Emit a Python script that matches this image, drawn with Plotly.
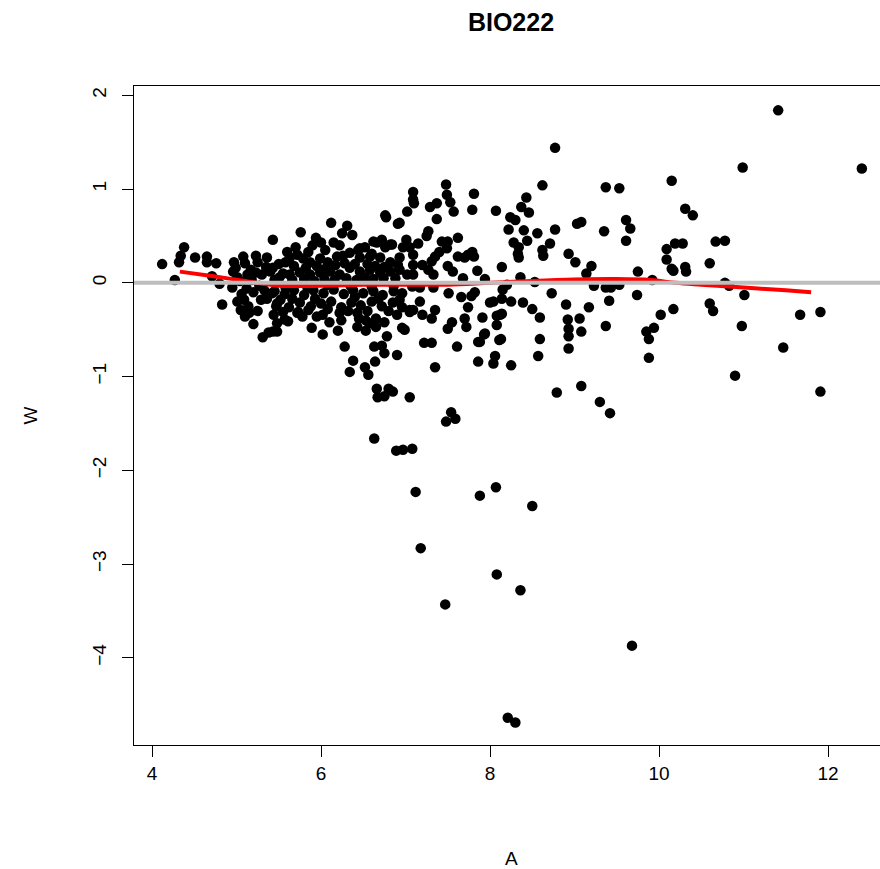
import plotly.graph_objects as go

# ---- data (A = average log intensity, W = log ratio) ----
A = [
    4.12,4.38,4.34,4.32,4.51,4.65,4.65,4.76,
    4.27,4.71,4.80,4.83,4.97,4.99,5.08,5.10,
    4.96,5.01,4.95,5.01,5.05,5.10,5.09,5.14,
    5.20,5.23,5.25,5.17,5.23,5.30,5.36,5.29,
    5.36,5.35,5.31,5.38,5.43,5.42,5.04,5.12,
    5.18,5.27,5.33,5.45,5.47,5.40,5.13,5.06,
    5.20,5.25,5.15,5.44,5.48,5.43,5.48,5.55,
    5.52,5.50,5.51,5.43,5.55,5.58,5.58,
    5.76,5.94,6.00,6.12,6.31,6.25,6.37,6.15,
    5.63,5.72,5.79,5.87,5.99,6.08,6.19,6.26,
    6.34,6.44,6.52,6.66,6.76,6.84,6.97,6.46,
    6.58,6.70,6.82,6.91,6.62,6.72,6.82,6.46,
    6.76,6.91,7.02,6.77,5.63,5.75,5.87,5.99,
    6.11,6.22,6.34,6.46,6.58,6.70,6.82,6.93,
    7.02,5.68,5.82,5.95,6.05,6.17,6.28,6.40,
    6.55,6.64,6.75,6.88,5.66,5.80,5.92,6.04,
    6.16,6.30,6.42,6.52,6.62,6.74,5.70,5.60,
    5.85,6.05,6.22,6.60,5.90,
    5.45,5.57,5.68,5.80,5.91,6.03,6.15,6.27,
    6.38,6.50,6.62,6.73,6.86,6.96,
    5.48,5.62,5.75,5.88,6.00,6.12,6.24,6.36,
    6.47,6.60,6.72,6.85,
    5.57,5.72,5.89,6.02,6.22,6.24,6.20,6.43,
    6.53,6.65,6.78,6.90,6.28,6.63,6.72,5.61,
    5.73,5.85,5.95,6.02,6.43,6.53,6.65,6.45,
    6.57,6.75,6.96,6.99,7.05,6.75,6.90,6.38,
    6.64,6.52,6.56,6.34,6.66,6.80,6.85,6.67,
    6.75,7.05,6.63,6.89,6.97,7.08,7.12,7.18,
    5.66,5.78,5.93,6.08,6.10,6.32,6.40,6.55,
    6.68,6.80,6.92,5.84,6.08,6.35,6.60,6.86,
    7.48,7.09,7.09,7.10,7.49,7.53,7.81,7.29,
    7.37,7.57,7.79,8.07,7.37,6.93,7.62,7.43,
    7.50,7.01,7.05,7.09,7.40,7.49,7.62,7.70,
    7.79,7.81,7.31,7.85,7.09,7.20,7.27,7.50,
    7.56,7.33,7.09,7.94,7.68,6.93,7.74,7.15,
    7.25,7.35,7.27,
    7.08,7.17,7.33,7.51,7.66,7.78,7.82,8.00,
    8.04,7.74,7.35,7.17,7.09,7.05,6.93,6.96,
    7.20,7.31,7.55,7.70,7.72,7.91,8.08,8.12,
    8.08,7.50,7.94,7.86,7.22,7.31,7.61,7.35,
    7.86,7.93,8.11,8.06,8.04,7.54,7.59,7.48,
    7.88,8.07,8.50,8.08,8.36,7.47,8.21,8.30,
    9.68,7.88,
    8.37,8.46,8.24,8.30,8.22,8.40,8.56,8.77,
    8.43,8.28,8.34,8.33,8.34,8.44,8.71,8.62,
    8.63,8.93,9.01,8.14,8.36,8.53,8.73,8.15,
    8.20,8.14,8.25,8.39,8.50,8.59,8.90,8.92,
    8.93,8.93,8.59,8.14,8.13,8.93,8.57,8.25,
    8.77,8.62,8.79,
    9.03,9.08,9.35,9.61,9.66,9.61,9.37,9.53,
    10.15,10.31,10.40,10.09,10.09,10.15,10.17,10.19,
    10.28,10.31,10.32,9.20,9.14,9.75,9.23,9.37,
    9.43,9.53,9.92,9.17,9.41,9.74,10.02,10.17,
    9.06,9.08,9.37,9.85,9.88,9.94,9.88,9.08,
    9.30,9.42,10.99,11.41,12.40,10.67,10.78,10.60,
    10.78,10.83,11.01,10.60,10.64,11.67,11.91,10.98,
    11.47,10.90,11.91,
]
W = [
    0.20,0.38,0.29,0.22,0.27,0.28,0.22,0.21,
    0.03,0.07,-0.01,-0.23,0.22,0.16,0.28,0.21,
    0.12,0.06,-0.05,-0.20,-0.29,-0.36,-0.18,-0.25,
    -0.44,0.29,0.22,0.14,0.11,0.09,-0.17,-0.18,
    0.27,0.17,-0.58,-0.53,0.46,-0.11,0.02,-0.06,
    0.03,-0.03,-0.08,0.03,-0.25,0.12,0.09,-0.12,
    -0.10,-0.30,-0.32,-0.34,-0.43,-0.52,-0.52,-0.31,
    -0.18,0.20,0.06,0.16,0.10,-0.05,0.22,
    0.54,0.48,0.43,0.64,0.61,0.53,0.51,0.43,
    0.27,0.30,0.26,0.22,0.26,0.22,0.28,0.29,
    0.32,0.35,0.38,0.43,0.38,0.41,0.38,0.27,
    0.28,0.27,0.22,0.19,0.44,0.46,0.41,0.37,
    0.72,0.63,0.76,0.70,0.09,0.11,0.09,0.11,
    0.12,0.09,0.16,0.12,0.14,0.11,0.12,0.14,
    0.09,0.18,0.16,0.18,0.15,0.19,0.21,0.20,
    0.20,0.18,0.17,0.05,0.03,0.04,0.02,0.04,
    0.03,0.05,0.03,0.06,0.04,0.05,0.38,0.33,
    0.33,0.35,0.40,0.31,0.40,
    -0.09,-0.12,-0.08,-0.13,-0.08,-0.11,-0.07,-0.12,
    -0.08,-0.11,-0.09,-0.13,-0.09,-0.11,
    -0.22,-0.26,-0.21,-0.25,-0.22,-0.20,-0.26,-0.21,
    -0.24,-0.20,-0.25,-0.21,
    -0.39,-0.32,-0.48,-0.55,-0.32,-0.40,-0.51,-0.32,
    -0.40,-0.38,-0.57,-0.34,-0.68,-0.68,-0.67,-0.41,
    -0.31,-0.29,-0.36,-0.34,-0.47,-0.51,-0.47,-0.38,
    -0.43,-0.42,-0.48,-0.50,-0.29,-0.75,-0.77,-0.83,
    -0.84,-0.90,-0.98,-0.95,-1.13,-1.13,-1.16,-1.22,
    -1.21,-1.22,-1.66,-1.79,-1.78,-1.77,-2.23,-2.83,
    -0.17,-0.36,-0.17,-0.28,-0.42,-0.30,-0.15,-0.30,
    -0.17,-0.30,-0.20,-0.05,-0.02,-0.03,-0.04,-0.03,
    1.05,0.97,0.89,0.85,0.94,0.86,0.95,0.81,
    0.85,0.76,0.78,0.77,0.68,0.64,0.48,0.44,
    0.44,0.46,0.38,0.30,0.33,0.37,0.28,0.27,
    0.33,0.28,0.23,0.13,0.19,0.19,0.14,0.18,
    0.12,0.09,0.09,0.04,0.05,0.27,0.30,0.42,
    0.50,0.28,0.55,
    -0.04,-0.05,-0.05,-0.11,-0.15,-0.14,-0.10,-0.21,
    -0.20,-0.26,-0.29,-0.20,-0.29,-0.31,-0.18,-0.26,
    -0.34,-0.38,-0.42,-0.38,-0.47,-0.37,-0.35,-0.34,
    -0.45,-0.49,-0.54,-0.63,-0.64,-0.64,-0.68,-0.90,
    -0.84,-0.55,-0.61,-0.78,-0.86,-1.38,-1.45,-1.48,
    -2.27,-2.18,-2.38,-3.11,-3.28,-3.43,-4.64,-4.69,
    -3.87,-0.63,
    0.81,0.75,0.70,0.67,0.57,0.56,0.53,0.57,
    0.91,0.43,0.38,0.31,0.27,0.45,0.42,0.35,
    0.29,0.31,0.22,0.17,0.06,0.01,-0.11,-0.07,
    -0.02,-0.17,-0.20,-0.21,-0.28,-0.37,-0.23,-0.39,
    -0.49,-0.57,-0.60,-0.33,-0.60,-0.70,-0.78,-0.88,
    1.44,1.04,-1.17,
    0.63,0.65,0.55,0.67,0.58,0.45,1.02,1.01,
    1.09,0.79,0.72,0.36,0.25,0.15,0.13,0.42,
    0.42,0.17,0.12,0.18,0.10,0.12,-0.03,-0.05,
    -0.05,-0.02,0.03,-0.26,-0.19,-0.13,-0.34,-0.28,
    -0.38,-0.52,-0.46,-0.52,-0.60,-0.48,-0.80,-1.10,
    -1.27,-1.39,1.23,1.84,1.22,0.44,0.45,0.21,
    0.00,-0.03,-0.13,-0.22,-0.30,-0.34,-0.31,-0.46,
    -0.69,-0.99,-1.16,
]

# lowess fit (red curve)
LOESS_A = [4.33, 4.73, 5.1, 5.5, 6.0, 6.5, 7.0, 7.5, 8.0, 8.5, 9.0, 9.5, 9.9, 10.2, 10.5, 11.0, 11.5, 11.8]
LOESS_W = [0.12, 0.07, 0.02, -0.03, -0.03, -0.02, -0.02, -0.02, 0.0, 0.02, 0.035, 0.04, 0.03, 0.0, -0.02, -0.05, -0.08, -0.10]

X_TICKS = [4, 6, 8, 10, 12]
Y_TICKS = [-4, -3, -2, -1, 0, 1, 2]
TITLE = "BIO222"
X_LABEL = "A"
Y_LABEL = "W"
HLINE = 0

FONT = "Liberation Sans, Arial, Helvetica, sans-serif"


def fmt(v):
    return str(v).replace("-", "\u2212")


FIG_W, FIG_H = 880, 869
ML, MT, MB = 134, 86, 124
PLOT_W = FIG_W - ML
PLOT_H = FIG_H - MT - MB

fig = go.Figure()
fig.add_trace(go.Scatter(
    x=A, y=W, mode="markers",
    marker=dict(color="black", size=10.5, line=dict(width=0)),
    showlegend=False, hoverinfo="skip",
))
fig.add_trace(go.Scatter(
    x=LOESS_A, y=LOESS_W, mode="lines",
    line=dict(color="#FF0000", width=4, shape="spline"),
    showlegend=False, hoverinfo="skip",
))
fig.add_shape(type="line", xref="paper", x0=0, x1=1, yref="y", y0=HLINE, y1=HLINE,
              line=dict(color="#BEBEBE", width=4), layer="above")

fig.update_layout(
    width=FIG_W, height=FIG_H,
    margin=dict(l=ML, r=0, t=MT, b=MB, pad=0),
    paper_bgcolor="white", plot_bgcolor="white",
    font=dict(family=FONT, color="black", size=19),
    title=dict(text="<b>" + TITLE + "</b>", font=dict(size=25, family=FONT, color="black"),
               x=511 / FIG_W, xref="container", xanchor="center",
               y=1 - 22 / FIG_H, yref="container", yanchor="middle"),
    showlegend=False,
    hovermode=False,
)
fig.update_xaxes(
    range=[3.787, 12.615], tickvals=X_TICKS, ticktext=[fmt(v) for v in X_TICKS],
    ticks="outside", ticklen=11, tickwidth=1.3, tickcolor="black",
    showline=True, linecolor="black", linewidth=1.3, mirror=True,
    showgrid=False, zeroline=False, tickfont=dict(size=19),
    ticklabelstandoff=0,
)
fig.update_yaxes(
    range=[-4.93, 2.10], tickvals=Y_TICKS, ticktext=[fmt(v) for v in Y_TICKS],
    ticks="outside", ticklen=11, tickwidth=1.3, tickcolor="black",
    showline=True, linecolor="black", linewidth=1.3, mirror=False,
    showgrid=False, zeroline=False, tickfont=dict(size=19), tickangle=-90,
    ticklabelstandoff=8,
)
fig.add_annotation(text=X_LABEL, xref="paper", yref="paper",
                   x=(511 - ML) / PLOT_W, y=-(858 - (MT + PLOT_H)) / PLOT_H,
                   showarrow=False, font=dict(size=19), xanchor="center", yanchor="middle")
fig.add_annotation(text=Y_LABEL, xref="paper", yref="paper",
                   x=-(ML - 30) / PLOT_W, y=0.5,
                   showarrow=False, font=dict(size=19), textangle=-90, xanchor="center", yanchor="middle")

fig.write_html(
    "out.html",
    config={"displayModeBar": False},
    post_script="document.body.style.margin='0px';document.documentElement.style.overflow='hidden';",
)
